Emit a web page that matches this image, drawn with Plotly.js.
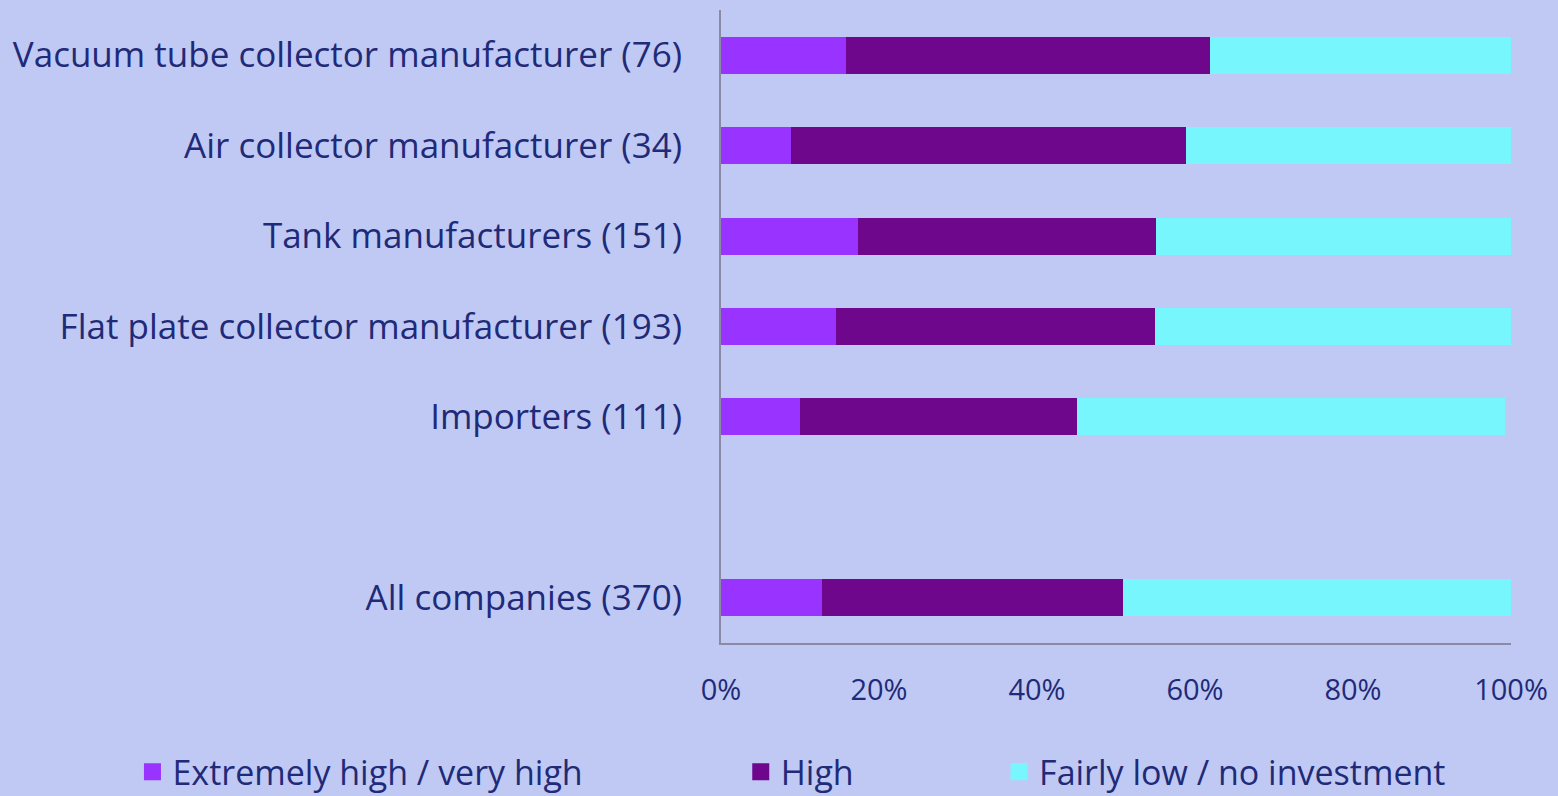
<!DOCTYPE html>
<html>
<head>
<meta charset="utf-8">
<script src="https://cdn.plot.ly/plotly-3.0.1.min.js"></script>
<style>html,body{margin:0;padding:0;background:#C0C9F4;}#chart{width:1558px;height:796px;}</style>
</head>
<body>
<div id="chart"></div>
<script>
// Categories (top to bottom); blank entry is the visual gap
const categories = [
  "Vacuum tube collector manufacturer (76)",
  "Air collector manufacturer (34)",
  "Tank manufacturers (151)",
  "Flat plate collector manufacturer (193)",
  "Importers (111)",
  " ",
  "All companies (370)"
];
const seriesNames = ["Extremely high / very high", "High", "Fairly low / no investment"];
// Percent values per series (null for the blank gap row)
const extremelyHigh = [15.8, 8.9, 17.3, 14.6, 10.0, null, 12.8];
const high          = [46.1, 50.0, 37.8, 40.3, 35.1, null, 38.1];
const fairlyLow     = [38.1, 41.1, 44.9, 45.1, 54.1, null, 49.1];
const xTickVals = [0, 20, 40, 60, 80, 100];
const xTickLabels = ["0%", "20%", "40%", "60%", "80%", "100%"];

const colors = ["#9933FF", "#6E078C", "#77F7FD"];
const textColor = "#1F2A78";
const fontFam = "'Open Sans', sans-serif";

const seriesValues = [extremelyHigh, high, fairlyLow];
const legendIds = ["legend", "legend2", "legend3"];

// Stacked bars (drawn on main axes, no legend entries)
const barTraces = seriesValues.map((vals, i) => ({
  type: "bar",
  orientation: "h",
  name: seriesNames[i],
  y: categories,
  x: vals,
  marker: {color: colors[i]},
  showlegend: false,
  hoverinfo: "x+y+name"
}));

// Legend keys only (on a hidden overlay axis, so nothing is drawn in the plot)
const keyTraces = seriesNames.map((nm, i) => ({
  type: "bar",
  orientation: "h",
  name: nm,
  y: [categories[0]],
  x: [0],
  xaxis: "x2",
  yaxis: "y2",
  marker: {color: colors[i], line: {color: colors[i], width: 5}},
  legend: legendIds[i],
  showlegend: true,
  hoverinfo: "skip"
}));

const legendFont = {family: fontFam, size: 34, color: textColor};
function mkLegend(x) {
  return {
    orientation: "h", x: x, xanchor: "left", y: -0.204, yanchor: "middle",
    bgcolor: "rgba(0,0,0,0)", font: legendFont, itemwidth: 30
  };
}

const layout = {
  width: 1558, height: 796,
  paper_bgcolor: "#C0C9F4",
  plot_bgcolor: "#C0C9F4",
  barmode: "stack",
  bargap: 0.59,
  margin: {l: 721, r: 47, t: 10, b: 153, autoexpand: false},
  font: {family: fontFam, color: textColor},
  showlegend: true,
  legend: mkLegend(-0.745),
  legend2: mkLegend(0.025),
  legend3: mkLegend(0.352),
  xaxis: {
    range: [0, 100],
    tickmode: "array",
    tickvals: xTickVals,
    ticktext: xTickLabels,
    showgrid: false,
    zeroline: false,
    showline: true,
    linecolor: "#8A8AA6",
    linewidth: 2,
    ticks: "",
    ticklabelstandoff: 20,
    tickfont: {family: fontFam, size: 29, color: textColor},
    fixedrange: true
  },
  yaxis: {
    type: "category",
    categoryorder: "array",
    categoryarray: categories,
    autorange: "reversed",
    showgrid: false,
    zeroline: false,
    showline: true,
    linecolor: "#8A8AA6",
    linewidth: 2,
    ticks: "",
    ticklabelstandoff: 30,
    tickfont: {family: fontFam, size: 35, color: textColor},
    fixedrange: true
  },
  xaxis2: {overlaying: "x", range: [10, 20], visible: false, fixedrange: true},
  yaxis2: {overlaying: "y", type: "category", visible: false, fixedrange: true}
};

Plotly.newPlot("chart", barTraces.concat(keyTraces), layout, {displayModeBar: false, staticPlot: true});
</script>
</body>
</html>
